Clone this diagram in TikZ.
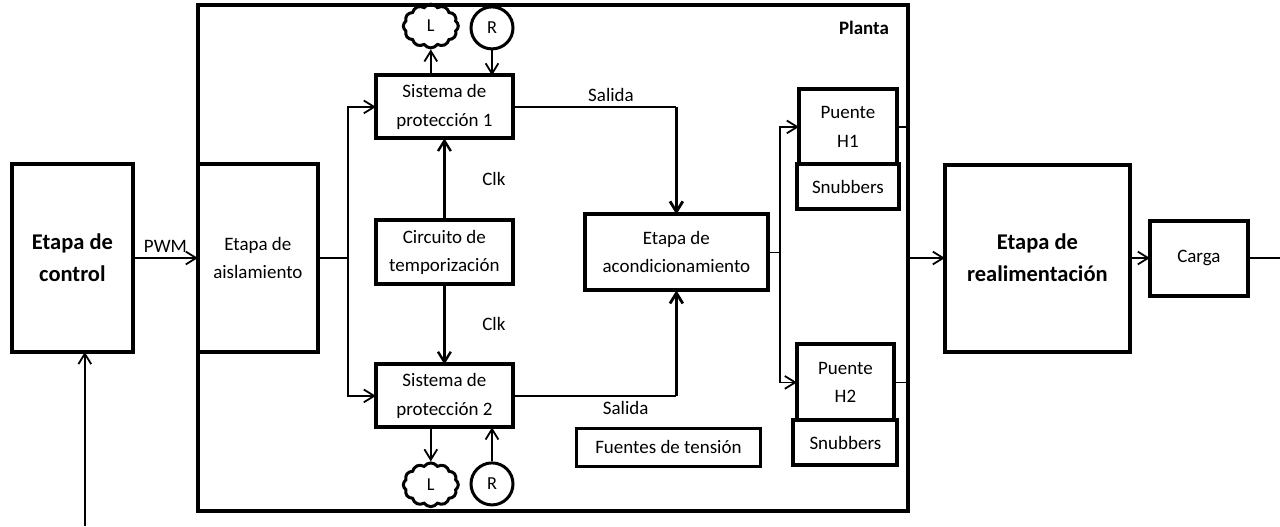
\documentclass[tikz,border=0pt]{standalone}
\usepackage{fontspec}
\setmainfont{Carlito}
\usepackage{tikz}
\usetikzlibrary{arrows.meta, positioning, shapes.symbols}

\begin{document}
\begin{tikzpicture}[
    block/.style={rectangle, draw=black, line width=1mm, outer sep=0pt, minimum width=34.25mm, minimum height=15.75mm, align=center, font=\fontsize{13.5}{20}\selectfont},
    bigblock/.style={block, font=\fontsize{16}{23}\selectfont\bfseries},
    plantbox/.style={rectangle, draw=black, line width=1mm, outer sep=0pt, minimum width=177.5mm, minimum height=126.5mm},
    lcloud/.style={cloud, cloud puffs=12, cloud puff arc=110, cloud ignores aspect, draw=black, line width=0.75mm, inner xsep=3.6mm, inner ysep=1.9mm, font=\fontsize{13}{15}\selectfont},
    rcircle/.style={circle, draw=black, line width=0.75mm, minimum size=10.5mm, inner sep=0pt, font=\fontsize{13}{15}\selectfont},
    line/.style={draw=black, line width=0.45mm, -{Straight Barb[length=2.6mm, width=3.2mm]}},
    bus/.style={line, line width=0.7mm},
    wire/.style={draw=black, line width=0.35mm},
    tag/.style={font=\fontsize{13.5}{20}\selectfont}
]
    \useasboundingbox (0,0) rectangle (320mm,-131.5mm);

    \node[bigblock, minimum width=30.25mm, minimum height=47mm] (control) at (18.1mm,-64.5mm) {Etapa de\\control};
    \node[block, minimum width=30mm, minimum height=47mm, right=16.25mm of control] (aisl) {Etapa de\\aislamiento};
    \node[plantbox, anchor=west] (planta) at (aisl.west) {};
    \node[font=\fontsize{13.5}{20}\selectfont\bfseries, anchor=north east] (plantalbl) at ([xshift=-3.5mm, yshift=-2.8mm]planta.north east) {Planta};

    \node[block, minimum height=16mm, right=14.5mm of aisl, yshift=1.4mm] (circ) {Circuito de\\temporización};
    \node[block, above=20.5mm of circ] (prot1) {Sistema de\\protección 1};
    \node[block, below=20mm of circ] (prot2) {Sistema de\\protección 2};

    \node[lcloud, above=6.5mm of prot1.north, xshift=-3.4mm] (l1) {L};
    \node[rcircle, above=6.25mm of prot1.north, xshift=11.9mm] (r1) {R};
    \node[lcloud, below=8.5mm of prot2.south, xshift=-3.4mm] (l2) {L};
    \node[rcircle, below=8.5mm of prot2.south, xshift=11.9mm] (r2) {R};

    \node[block, minimum width=45.75mm, minimum height=19mm, right=18mm of circ] (acond) {Etapa de\\acondicionamiento};
    \node[block, minimum width=46mm, minimum height=9.5mm, line width=0.8mm, below=34.5mm of acond, xshift=-2mm] (fuentes) {Fuentes de tensión};

    \node[block, minimum width=24.5mm, minimum height=18.75mm, above right=12.5mm and 7.75mm of acond] (h1) {Puente\\H1};
    \node[block, minimum width=25.5mm, minimum height=11.25mm, below=0pt of h1] (snub1) {Snubbers};
    \node[block, minimum width=24.25mm, minimum height=19mm, below right=13.5mm and 7.25mm of acond] (h2) {Puente\\H2};
    \node[block, minimum width=26mm, minimum height=11.25mm, below=0pt of h2] (snub2) {Snubbers};

    \node[bigblock, minimum width=46.25mm, minimum height=46.75mm, right=9.25mm of planta] (real) {Etapa de\\realimentación};
    \node[block, minimum width=24.5mm, minimum height=18.75mm, right=5mm of real] (carga) {Carga};

    % Connections
    \draw[line] (control) -- node[tag, above] {PWM} (aisl);
    \coordinate[right=7.5mm of aisl.east] (split1);
    \draw[wire] (aisl.east) -- (split1);
    \draw[line] (split1) |- (prot1);
    \draw[line] (split1) |- (prot2);
    \draw[bus, line width=0.6mm] (circ) -- node[tag, right=8mm] {Clk} (prot1);
    \draw[bus, line width=0.6mm] (circ) -- node[tag, right=8mm] {Clk} (prot2);

    \draw[line] (prot1.north -| l1) -- (l1.south);
    \draw[line] (r1) -- (r1 |- prot1.north);
    \draw[line] (prot2.south -| l2) -- (l2.north);
    \draw[line] (r2) -- (r2 |- prot2.south);

    \coordinate (join1) at (prot1.east -| acond);
    \coordinate (join2) at (prot2.east -| acond);
    \draw[wire] (prot1.east) -- node[tag, above, pos=0.6] {Salida} (join1);
    \draw[bus] (join1) -- (acond.north);
    \draw[wire] (prot2.east) -- node[tag, below, pos=0.69] {Salida} (join2);
    \draw[bus] (join2) -- (acond.south);

    \coordinate[right=3mm of acond.east] (split2);
    \draw[wire] (acond.east) -- (split2);
    \draw[line] (split2) |- (h1);
    \draw[line] (split2) |- (h2);
    \draw[wire] (h1.east) -- (h1.east -| planta.east);
    \draw[wire] (h2.east) -- (h2.east -| planta.east);

    \draw[line] (planta) -- (real);
    \draw[line] (real) -- (carga);
    \coordinate[right=8mm of carga.east] (out);
    \draw[wire] (carga) -- (out);
    \coordinate[below=43.5mm of control.south, xshift=3.1mm] (fb);
    \draw[line] (fb) -- (fb |- control.south);
\end{tikzpicture}
\end{document}
